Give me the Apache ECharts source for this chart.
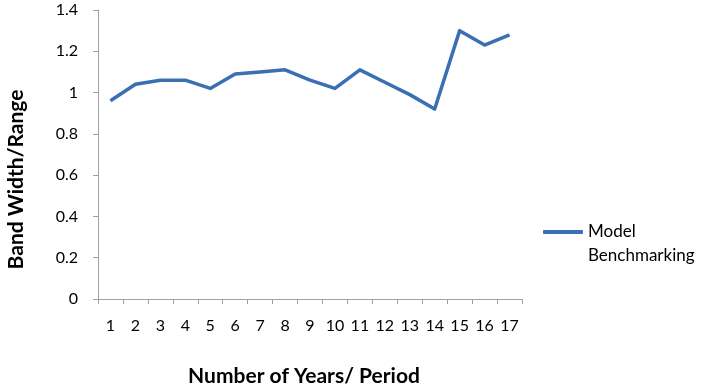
<!DOCTYPE html>
<html>
<head>
<meta charset="utf-8">
<script src="https://cdn.jsdelivr.net/npm/echarts@6/dist/echarts.min.js"></script>
<style>
  html, body { margin: 0; padding: 0; background: #fff; }
  #chart { width: 702px; height: 388px; }
</style>
</head>
<body>
<div id="chart"></div>
<script>
const periods = ["1","2","3","4","5","6","7","8","9","10","11","12","13","14","15","16","17"];
const modelBenchmarking = [0.96, 1.04, 1.06, 1.06, 1.02, 1.09, 1.10, 1.11, 1.06, 1.02, 1.11, 1.05, 0.99, 0.92, 1.30, 1.23, 1.28];
const yTicks = { min: 0, max: 1.4, interval: 0.2 };

const chart = echarts.init(document.getElementById("chart"));
const font = "Lato, 'Open Sans', sans-serif";

chart.setOption({
  animation: false,
  textStyle: { fontFamily: font },
  grid: { left: 98, top: 10, right: 180, bottom: 89, containLabel: false, outerBoundsMode: "none" },
  legend: {
    data: ["Model Benchmarking"],
    orient: "vertical",
    left: 543,
    top: 196,
    padding: 0,
    itemWidth: 40,
    itemHeight: 4,
    itemGap: 0,
    icon: "roundRect",
    // leading empty line keeps "Model" level with the icon
    formatter: () => "\nModel\nBenchmarking",
    textStyle: { fontFamily: font, fontSize: 17, color: "#000", lineHeight: 24 }
  },
  xAxis: {
    type: "category",
    data: periods,
    boundaryGap: true,
    name: "Number of Years/ Period",
    nameLocation: "middle",
    nameGap: 67,
    nameTextStyle: { fontFamily: font, fontSize: 21, fontWeight: "bold", color: "#000", padding: [0, 12, 0, 0] },
    axisLine: { lineStyle: { color: "#a0a0a0", width: 1 } },
    axisTick: { show: true, alignWithLabel: false, length: 5, lineStyle: { color: "#a0a0a0" } },
    axisLabel: { fontFamily: font, fontSize: 16, color: "#000", margin: 19, interval: 0 },
    splitLine: { show: false }
  },
  yAxis: {
    type: "value",
    min: yTicks.min,
    max: yTicks.max,
    interval: yTicks.interval,
    name: "Band Width/Range",
    nameLocation: "middle",
    nameGap: 71,
    nameTextStyle: { fontFamily: font, fontSize: 21, fontWeight: "bold", color: "#000", padding: [0, 50, 0, 0] },
    axisLine: { show: true, lineStyle: { color: "#a0a0a0", width: 1 } },
    axisTick: { show: true, length: 5, lineStyle: { color: "#a0a0a0" } },
    axisLabel: {
      fontFamily: font, fontSize: 16, color: "#000", margin: 20,
      formatter: v => String(Math.round(v * 10) / 10)
    },
    splitLine: { show: false }
  },
  series: [{
    name: "Model Benchmarking",
    type: "line",
    data: modelBenchmarking,
    symbol: "none",
    lineStyle: { color: "#3a6fb4", width: 3.5, join: "round" },
    itemStyle: { color: "#3a6fb4" }
  }]
});
</script>
</body>
</html>
